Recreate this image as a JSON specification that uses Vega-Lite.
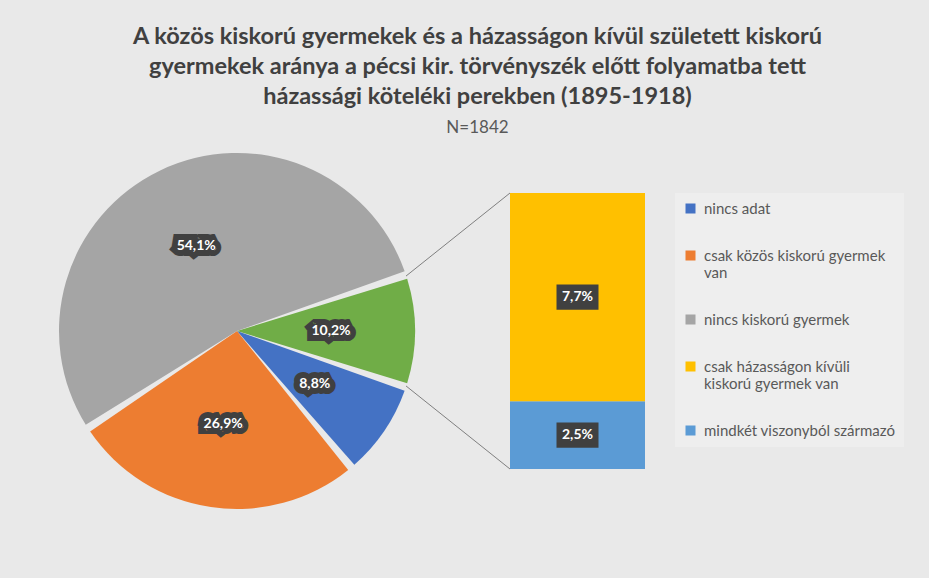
{
  "$schema": "https://vega.github.io/schema/vega-lite/v6.json",
  "background": "#e9e9e9",
  "padding": {"left": 59, "top": 24, "right": 28, "bottom": 69},
  "bounds": "flush",
  "config": {
    "view": {"stroke": null},
    "font": "Lato",
    "locale": {"number": {"decimal": ",", "thousands": " ", "grouping": [3], "currency": ["", ""]}}
  },
  "title": {
    "text": ["A közös kiskorú gyermekek és a házasságon kívül született kiskorú", "gyermekek aránya a pécsi kir. törvényszék előtt folyamatba tett", "házassági köteléki perekben (1895-1918)"],
    "subtitle": "N=1842",
    "font": "Lato",
    "fontSize": 23.5,
    "fontWeight": "bold",
    "color": "#404040",
    "lineHeight": 30,
    "subtitleFont": "Lato",
    "subtitleFontSize": 17,
    "subtitleColor": "#595959",
    "subtitlePadding": 12,
    "anchor": "middle",
    "frame": "bounds",
    "dx": -4,
    "offset": 17
  },
  "datasets": {
    "pie": [
      {"category": "Egyéb", "share": 0.102},
      {"category": "nincs adat", "share": 0.088},
      {"category": "csak közös kiskorú gyermek van", "share": 0.269},
      {"category": "nincs kiskorú gyermek", "share": 0.541}
    ],
    "bar": [
      {"category": "mindkét viszonyból származó", "share": 0.025},
      {"category": "csak házasságon kívüli kiskorú gyermek van", "share": 0.077}
    ]
  },
  "spacing": 0,
  "resolve": {"scale": {"color": "shared"}, "legend": {"color": "shared"}},
  "hconcat": [
    {
      "width": 338,
      "height": 276,
      "data": {"name": "pie"},
      "transform": [{"window": [{"op": "row_number", "as": "idx"}]}],
      "encoding": {
        "theta": {"field": "share", "type": "quantitative", "stack": true, "scale": {"range": [1.2504, 7.5336]}},
        "order": {"field": "idx", "type": "quantitative"}
      },
      "layer": [
        {
          "mark": {"type": "arc", "outerRadius": 178, "padAngle": 0.045},
          "encoding": {
            "color": {
              "field": "category",
              "type": "nominal",
              "scale": {
                "domain": ["nincs adat", "csak közös kiskorú gyermek van", "nincs kiskorú gyermek", "Egyéb", "csak házasságon kívüli kiskorú gyermek van", "mindkét viszonyból származó"],
                "range": ["#4472C4", "#ED7D31", "#A5A5A5", "#70AD47", "#FFC000", "#5B9BD5"]
              },
              "legend": {
                "values": ["nincs adat", "csak közös kiskorú gyermek van", "nincs kiskorú gyermek", "csak házasságon kívüli kiskorú gyermek van", "mindkét viszonyból származó"],
                "title": null,
                "orient": "right",
                "offset": 30,
                "symbolType": "square",
                "symbolSize": 100,
                "symbolStrokeWidth": 0,
                "labelFont": "Lato",
                "labelFontSize": 15,
                "labelColor": "#595959",
                "labelLimit": 300,
                "labelOffset": 6,
                "rowPadding": 31,
                "padding": 8,
                "fillColor": "#eeeeee",
                "labelExpr": "datum.label == 'csak közös kiskorú gyermek van' ? ['csak közös kiskorú gyermek', 'van'] : datum.label == 'csak házasságon kívüli kiskorú gyermek van' ? ['csak házasságon kívüli', 'kiskorú gyermek van'] : datum.label"
              }
            }
          }
        },
        {
          "mark": {"type": "text", "radius": 94, "font": "Lato", "fontSize": 14, "fontWeight": "bold", "fill": "#404040", "stroke": "#404040", "strokeWidth": 12, "strokeJoin": "miter", "strokeMiterLimit": 2},
          "encoding": {
            "detail": {"field": "category", "type": "nominal"},
            "text": {"field": "share", "type": "quantitative", "format": ".1%"}
          }
        },
        {
          "mark": {"type": "text", "radius": 94, "font": "Lato", "fontSize": 14, "fontWeight": "bold", "fill": "#ffffff"},
          "encoding": {
            "detail": {"field": "category", "type": "nominal"},
            "text": {"field": "share", "type": "quantitative", "format": ".1%"}
          }
        }
      ]
    },
    {
      "width": 104,
      "height": 276,
      "data": {"values": [{}]},
      "layer": [
        {
          "mark": {"type": "rule", "color": "#7f7f7f", "strokeWidth": 1},
          "encoding": {
            "x": {"datum": 0, "type": "quantitative", "axis": null, "scale": {"domain": [0, 1], "nice": false}},
            "x2": {"datum": 1},
            "y": {"datum": 0.0713, "type": "quantitative", "axis": null, "scale": {"domain": [0, 0.102], "nice": false}},
            "y2": {"datum": 0.102}
          }
        },
        {
          "mark": {"type": "rule", "color": "#7f7f7f", "strokeWidth": 1},
          "encoding": {
            "x": {"datum": 0, "type": "quantitative", "axis": null, "scale": {"domain": [0, 1], "nice": false}},
            "x2": {"datum": 1},
            "y": {"datum": 0.0307, "type": "quantitative", "axis": null, "scale": {"domain": [0, 0.102], "nice": false}},
            "y2": {"datum": 0}
          }
        }
      ]
    },
    {
      "width": 135,
      "height": 276,
      "data": {"name": "bar"},
      "transform": [{"window": [{"op": "row_number", "as": "idx"}]}],
      "encoding": {
        "x": {"datum": "bar", "type": "nominal", "axis": null, "scale": {"paddingInner": 0, "paddingOuter": 0}},
        "order": {"field": "idx", "type": "quantitative"}
      },
      "layer": [
        {
          "mark": {"type": "bar"},
          "encoding": {
            "y": {"field": "share", "type": "quantitative", "stack": "zero", "axis": null, "scale": {"domain": [0, 0.102], "nice": false}},
            "color": {
              "field": "category",
              "type": "nominal",
              "scale": {
                "domain": ["nincs adat", "csak közös kiskorú gyermek van", "nincs kiskorú gyermek", "Egyéb", "csak házasságon kívüli kiskorú gyermek van", "mindkét viszonyból származó"],
                "range": ["#4472C4", "#ED7D31", "#A5A5A5", "#70AD47", "#FFC000", "#5B9BD5"]
              }
            }
          }
        },
        {
          "mark": {"type": "point", "shape": "M-1,-0.6H1V0.6H-1Z", "filled": true, "opacity": 1, "size": 1764, "color": "#404040"},
          "encoding": {
            "y": {"field": "share", "type": "quantitative", "stack": "zero", "bandPosition": 0.5, "axis": null, "scale": {"domain": [0, 0.102], "nice": false}},
            "detail": {"field": "category", "type": "nominal"}
          }
        },
        {
          "mark": {"type": "text", "font": "Lato", "fontSize": 14, "fontWeight": "bold", "color": "#ffffff"},
          "encoding": {
            "y": {"field": "share", "type": "quantitative", "stack": "zero", "bandPosition": 0.5, "axis": null, "scale": {"domain": [0, 0.102], "nice": false}},
            "detail": {"field": "category", "type": "nominal"},
            "text": {"field": "share", "type": "quantitative", "format": ".1%"}
          }
        }
      ]
    }
  ]
}
